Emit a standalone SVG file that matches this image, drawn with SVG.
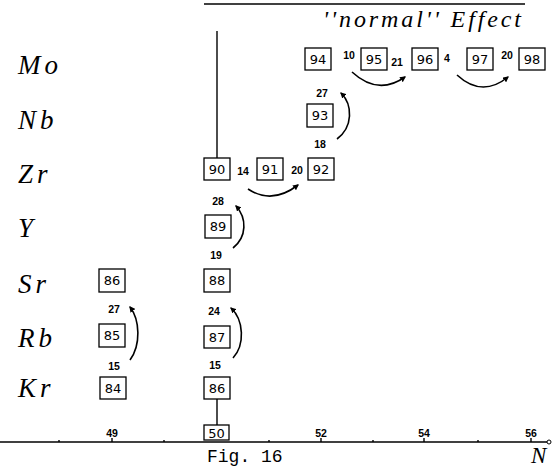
<svg xmlns="http://www.w3.org/2000/svg" width="553" height="468" viewBox="0 0 553 468">
<defs>
<marker id="ah" viewBox="0 0 10 10" refX="8" refY="5" markerWidth="6" markerHeight="6" orient="auto" markerUnits="userSpaceOnUse">
<path d="M0,0 L10,5 L0,10 z" fill="#000"/>
</marker>
</defs>
<style>
.bx{fill:#fff;stroke:#000;stroke-width:1.3}
.bt{font-family:"DejaVu Sans","Liberation Sans",sans-serif;font-size:13px;text-anchor:middle;fill:#000}
.el{font-family:"Liberation Serif",serif;font-style:italic;font-size:27px;letter-spacing:4px;fill:#000}
.sm{font-family:"Liberation Sans",sans-serif;font-size:10.5px;font-weight:bold;text-anchor:middle;fill:#000}
.ln{stroke:#000;stroke-width:1.4;fill:none}
.arc{stroke:#000;stroke-width:1.6;fill:none;marker-end:url(#ah)}
</style>
<rect width="553" height="468" fill="#fff"/>
<line class="ln" x1="204" y1="4" x2="525" y2="4"/>
<text x="323" y="27" font-family="Liberation Serif,serif" font-style="italic" font-size="24" textLength="198" lengthAdjust="spacing">''normal'' Effect</text>
<g id="labels">
<text class="el" x="18" y="74">Mo</text>
<text class="el" x="18" y="129">Nb</text>
<text class="el" x="18" y="183">Zr</text>
<text class="el" x="18" y="237">Y</text>
<text class="el" x="18" y="293">Sr</text>
<text class="el" x="18" y="347">Rb</text>
<text class="el" x="18" y="397">Kr</text>
</g>
<g id="axis">
<line class="ln" x1="0" y1="442" x2="547" y2="442" stroke-width="1.6"/>
<circle cx="549" cy="442" r="2" fill="none" stroke="#000" stroke-width="1"/>
<g class="ln">
<line x1="59" y1="442" x2="59" y2="440"/>
<line x1="112" y1="442" x2="112" y2="438"/>
<line x1="164" y1="442" x2="164" y2="440"/>
<line x1="269" y1="442" x2="269" y2="440"/>
<line x1="321" y1="442" x2="321" y2="438"/>
<line x1="373" y1="442" x2="373" y2="440"/>
<line x1="424" y1="442" x2="424" y2="438"/>
<line x1="478" y1="442" x2="478" y2="440"/>
<line x1="531" y1="442" x2="531" y2="438"/>
</g>
<text class="sm" x="112" y="437">49</text>
<text class="sm" x="321" y="437">52</text>
<text class="sm" x="424" y="437">54</text>
<text class="sm" x="531" y="437">56</text>
<text x="207" y="462" font-family="Liberation Mono,monospace" font-size="18">Fig. 16</text>
<text x="531" y="463" font-family="Liberation Serif,serif" font-style="italic" font-size="23">N</text>
</g>
<g id="connectors">
<line class="ln" x1="217" y1="31" x2="217" y2="158"/>
<line class="ln" x1="217" y1="399" x2="217" y2="425"/>
<path class="arc" d="M352,72 Q378,96 405,77"/>
<path class="arc" d="M457,75 Q482,98 508,77"/>
<path class="arc" d="M337,139 C353,127 353,105 341,93"/>
<path class="arc" d="M248,189 Q272,205 298,185"/>
<path class="arc" d="M233,248 C247,237 247,218 236,206"/>
<path class="arc" d="M130,360 C141,345 140,320 130,307"/>
<path class="arc" d="M233,358 C245,345 244,320 231,308"/>
<text class="sm" x="349" y="59">10</text>
<text class="sm" x="397" y="66">21</text>
<text class="sm" x="447" y="62">4</text>
<text class="sm" x="507" y="59">20</text>
<text class="sm" x="322" y="97">27</text>
<text class="sm" x="320" y="148">18</text>
<text class="sm" x="243" y="175">14</text>
<text class="sm" x="297" y="174">20</text>
<text class="sm" x="218" y="205">28</text>
<text class="sm" x="216" y="259">19</text>
<text class="sm" x="114" y="313">27</text>
<text class="sm" x="214" y="315">24</text>
<text class="sm" x="114" y="370">15</text>
<text class="sm" x="215" y="369">15</text>
</g>
<g id="n94"><rect class="bx" x="305" y="48" width="26" height="22"/><text class="bt" x="318" y="64">94</text></g>
<g id="n95"><rect class="bx" x="361" y="48" width="26" height="22"/><text class="bt" x="374" y="64">95</text></g>
<g id="n96"><rect class="bx" x="412" y="48" width="26" height="22"/><text class="bt" x="425" y="64">96</text></g>
<g id="n97"><rect class="bx" x="467" y="48" width="26" height="22"/><text class="bt" x="480" y="64">97</text></g>
<g id="n98"><rect class="bx" x="519" y="48" width="26" height="22"/><text class="bt" x="532" y="64">98</text></g>
<g id="n93"><rect class="bx" x="307" y="104" width="26" height="23"/><text class="bt" x="320" y="120">93</text></g>
<g id="n90"><rect class="bx" x="204" y="158" width="26" height="22"/><text class="bt" x="217" y="174">90</text></g>
<g id="n91"><rect class="bx" x="257" y="158" width="26" height="22"/><text class="bt" x="270" y="174">91</text></g>
<g id="n92"><rect class="bx" x="308" y="158" width="26" height="22"/><text class="bt" x="321" y="174">92</text></g>
<g id="n89"><rect class="bx" x="205" y="215" width="26" height="23"/><text class="bt" x="218" y="231">89</text></g>
<g id="n86sr"><rect class="bx" x="99" y="269" width="26" height="23"/><text class="bt" x="112" y="285">86</text></g>
<g id="n88"><rect class="bx" x="204" y="269" width="26" height="23"/><text class="bt" x="217" y="285">88</text></g>
<g id="n85"><rect class="bx" x="99" y="324" width="26" height="23"/><text class="bt" x="112" y="340">85</text></g>
<g id="n87"><rect class="bx" x="204" y="326" width="26" height="22"/><text class="bt" x="217" y="342">87</text></g>
<g id="n84"><rect class="bx" x="100" y="377" width="26" height="22"/><text class="bt" x="113" y="393">84</text></g>
<g id="n86kr"><rect class="bx" x="204" y="377" width="26" height="22"/><text class="bt" x="217" y="393">86</text></g>
<g id="n50"><rect class="bx" x="204" y="425" width="25" height="15"/><text class="bt" x="216.5" y="437.5">50</text></g>
</svg>
